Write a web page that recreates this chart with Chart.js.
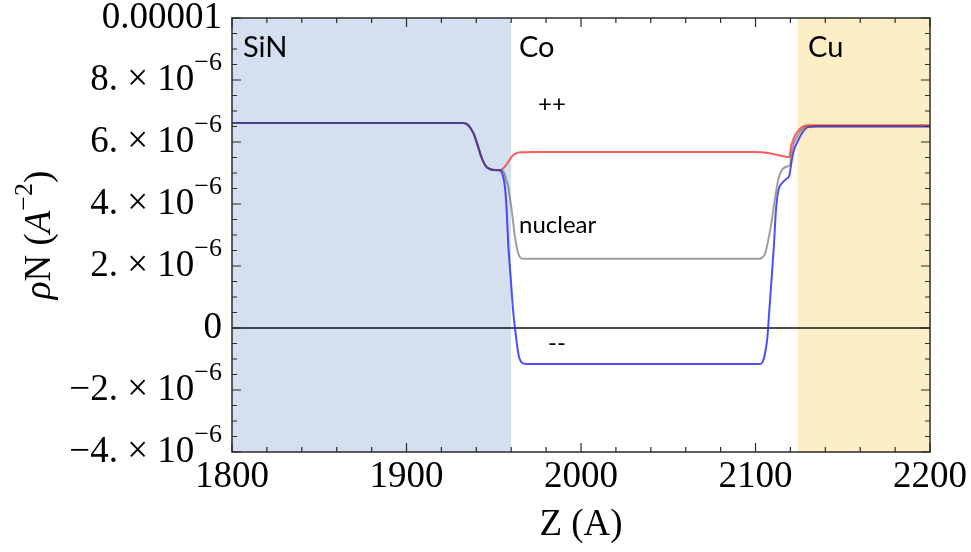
<!DOCTYPE html>
<html>
<head>
<meta charset="utf-8">
<script src="https://cdn.jsdelivr.net/npm/chart.js@4.4.1/dist/chart.umd.min.js"></script>
<style>
  body { margin: 0; background: #fff; }
  #wrap { width: 971px; height: 552px; }
</style>
</head>
<body>
<div id="wrap"><canvas id="rhoChart" width="971" height="552"></canvas></div>
<script>
// SLD profiles. rho values in units of 1e-6 A^-2
const zPlus = [1800, 1932, 1935, 1937, 1939, 1941, 1943, 1945, 1947, 1950, 1953, 1955, 1957, 1959, 1961, 1963, 1966, 1975, 2000, 2100, 2108, 2112, 2116, 2119.4, 2120.3, 2121.5, 2123, 2126, 2129, 2133, 2200];
const rhoPlus = [6.61, 6.61, 6.56, 6.42, 6.2, 5.85, 5.5, 5.26, 5.15, 5.1, 5.09, 5.13, 5.25, 5.42, 5.57, 5.64, 5.67, 5.68, 5.68, 5.68, 5.64, 5.59, 5.54, 5.51, 5.85, 6.05, 6.25, 6.45, 6.53, 6.54, 6.54];

const zNuc = [1800, 1932, 1935, 1937, 1939, 1941, 1943, 1945, 1947, 1950, 1953, 1955.5, 1957, 1958.3, 1960.3, 1962.2, 1964.1, 1967, 2000, 2102.6, 2104, 2105.4, 2107, 2109.3, 2111.2, 2113.1, 2115, 2118, 2119.8, 2120.5, 2122, 2124, 2127, 2130, 2135, 2200];
const rhoNuc = [6.61, 6.61, 6.56, 6.42, 6.2, 5.85, 5.5, 5.26, 5.15, 5.1, 5.09, 5.05, 4.8, 4.55, 3.79, 2.93, 2.39, 2.23, 2.23, 2.23, 2.28, 2.39, 2.75, 3.45, 4.2, 4.8, 5.08, 5.21, 5.26, 5.6, 5.95, 6.2, 6.42, 6.5, 6.51, 6.51];

const zMinus = [1800, 1932, 1935, 1937, 1939, 1941, 1943, 1945, 1947, 1950, 1953, 1954.6, 1956.4, 1957.4, 1958.3, 1959.7, 1961.1, 1962.8, 1964.1, 1966, 1968.8, 2000, 2102.6, 2104, 2105.4, 2106.8, 2107.9, 2109.3, 2110.6, 2111.7, 2113.1, 2115, 2117.9, 2119.4, 2120.2, 2120.8, 2122, 2124, 2126.5, 2130, 2135, 2200];
const rhoMinus = [6.61, 6.61, 6.56, 6.42, 6.2, 5.85, 5.5, 5.26, 5.15, 5.1, 5.09, 5.02, 4.55, 3.79, 2.72, 1.63, 0.56, -0.3, -0.84, -1.11, -1.16, -1.16, -1.16, -1.1, -0.84, -0.3, 0.56, 1.64, 2.72, 3.79, 4.44, 4.66, 4.82, 4.92, 5.19, 5.41, 5.73, 6.0, 6.27, 6.48, 6.5, 6.5];

// layer boundaries (Z)
const sinLayer = [1800, 1960];
const cuLayer = [2124, 2200];

// axis ticks
const xMajor = [1800, 1900, 2000, 2100, 2200];
const xLabels = ['1800', '1900', '2000', '2100', '2200'];
const yMajor = [10, 8, 6, 4, 2, 0, -2, -4];
const yLabelMain = ['0.00001', '8. \u00d7 10', '6. \u00d7 10', '4. \u00d7 10', '2. \u00d7 10', '0', '\u22122. \u00d7 10', '\u22124. \u00d7 10'];
const yLabelSup = ['', '\u22126', '\u22126', '\u22126', '\u22126', '', '\u22126', '\u22126'];

function pts(xs, ys) {
  return xs.map(function(x, i) { return {x: x, y: ys[i]}; });
}

const serif = '"Liberation Serif", "Times New Roman", serif';
const sans = 'Lato, "Open Sans", sans-serif';

/** draws frame, inward ticks, tick labels, titles and layer names */
const decorations = {
  id: 'decorations',
  afterDraw: function(chart) {
    const ctx = chart.ctx;
    const xs = chart.scales.x, ys = chart.scales.y;
    const a = chart.chartArea;
    ctx.save();
    ctx.strokeStyle = '#2b2b2b';
    ctx.lineWidth = 1.5;
    ctx.strokeRect(a.left, a.top, a.right - a.left, a.bottom - a.top);

    ctx.lineWidth = 1.2;
    ctx.beginPath();
    for (let v = 1800; v <= 2200; v += 20) {
      const px = xs.getPixelForValue(v);
      const len = (v % 100 === 0) ? 9 : 5;
      ctx.moveTo(px, a.bottom); ctx.lineTo(px, a.bottom - len);
      ctx.moveTo(px, a.top); ctx.lineTo(px, a.top + len);
    }
    for (let v = -4; v <= 10; v += 0.5) {
      const py = ys.getPixelForValue(v);
      const len = (v % 2 === 0) ? 9 : 5;
      ctx.moveTo(a.left, py); ctx.lineTo(a.left + len, py);
      ctx.moveTo(a.right, py); ctx.lineTo(a.right - len, py);
    }
    ctx.stroke();

    // x tick labels
    ctx.fillStyle = '#000';
    ctx.font = '37px ' + serif;
    ctx.textAlign = 'center';
    ctx.textBaseline = 'middle';
    xMajor.forEach(function(v, i) {
      ctx.fillText(xLabels[i], xs.getPixelForValue(v), a.bottom + 25);
    });

    // y tick labels
    yMajor.forEach(function(v, i) {
      const py = ys.getPixelForValue(v);
      const right = a.left - 10;
      ctx.textAlign = 'left';
      ctx.font = '26px ' + serif;
      const sw = yLabelSup[i] ? ctx.measureText(yLabelSup[i]).width : 0;
      if (yLabelSup[i]) ctx.fillText(yLabelSup[i], right - sw, py - 17);
      ctx.font = '37px ' + serif;
      const mw = ctx.measureText(yLabelMain[i]).width;
      ctx.fillText(yLabelMain[i], right - sw - mw, py);
    });

    // x title
    ctx.textAlign = 'center';
    ctx.font = '37px ' + serif;
    ctx.fillText('Z (A)', (a.left + a.right) / 2, 525);

    // y title
    ctx.save();
    ctx.translate(40, 235);
    ctx.rotate(-Math.PI / 2);
    const parts = [
      {t: '\u03c1', f: 'italic 37px ' + serif, dy: 0},
      {t: 'N (', f: '37px ' + serif, dy: 0},
      {t: 'A', f: 'italic 37px ' + serif, dy: 0},
      {t: '\u22122', f: '26px ' + serif, dy: -15},
      {t: ')', f: '37px ' + serif, dy: 0}
    ];
    let total = 0;
    parts.forEach(function(p) { ctx.font = p.f; p.w = ctx.measureText(p.t).width; total += p.w; });
    let cx = -total / 2;
    ctx.textAlign = 'left';
    parts.forEach(function(p) {
      ctx.font = p.f;
      ctx.fillText(p.t, cx, p.dy);
      cx += p.w;
    });
    ctx.restore();

    // layer names and series notes
    ctx.textAlign = 'left';
    ctx.font = '29px ' + sans;
    ctx.fillText('SiN', 243, 48);
    ctx.fillText('Co', 519, 48);
    ctx.fillText('Cu', 808, 48);
    ctx.font = '24px ' + sans;
    ctx.fillText('++', 538, 104);
    ctx.fillText('nuclear', 519, 225);
    ctx.fillText('--', 548, 343);
    ctx.restore();
  }
};

const ctx = document.getElementById('rhoChart').getContext('2d');
const rhoChart = new Chart(ctx, {
  type: 'line',
  data: {
    datasets: [{
      label: 'nuclear',
      data: pts(zNuc, rhoNuc),
      borderColor: 'rgba(80, 80, 80, 0.55)',
      borderWidth: 2,
      order: 1
    }, {
      label: '--',
      data: pts(zMinus, rhoMinus),
      borderColor: 'rgba(30, 30, 255, 0.78)',
      borderWidth: 2,
      order: 2
    }, {
      label: '++',
      data: pts(zPlus, rhoPlus),
      borderColor: 'rgba(255, 30, 30, 0.72)',
      borderWidth: 2,
      order: 3
    }, {
      label: 'zero',
      data: pts([1800, 2200], [0, 0]),
      borderColor: '#111',
      borderWidth: 1.5,
      order: 5
    }, {
      label: 'SiN',
      data: pts(sinLayer, [10, 10]),
      borderWidth: 0,
      backgroundColor: '#d4dfef',
      fill: 'start',
      order: 10
    }, {
      label: 'Cu',
      data: pts(cuLayer, [10, 10]),
      borderWidth: 0,
      backgroundColor: '#feeec6',
      fill: 'start',
      order: 10
    }]
  },
  options: {
    responsive: false,
    animation: false,
    layout: { padding: { left: 232, right: 41, top: 18, bottom: 100 } },
    elements: {
      point: { radius: 0 },
      line: { cubicInterpolationMode: 'monotone' }
    },
    plugins: { legend: { display: false }, tooltip: { enabled: false } },
    scales: {
      x: { type: 'linear', min: 1800, max: 2200, display: false },
      y: { type: 'linear', min: -4, max: 10, display: false }
    }
  },
  plugins: [decorations]
});
</script>
</body>
</html>
